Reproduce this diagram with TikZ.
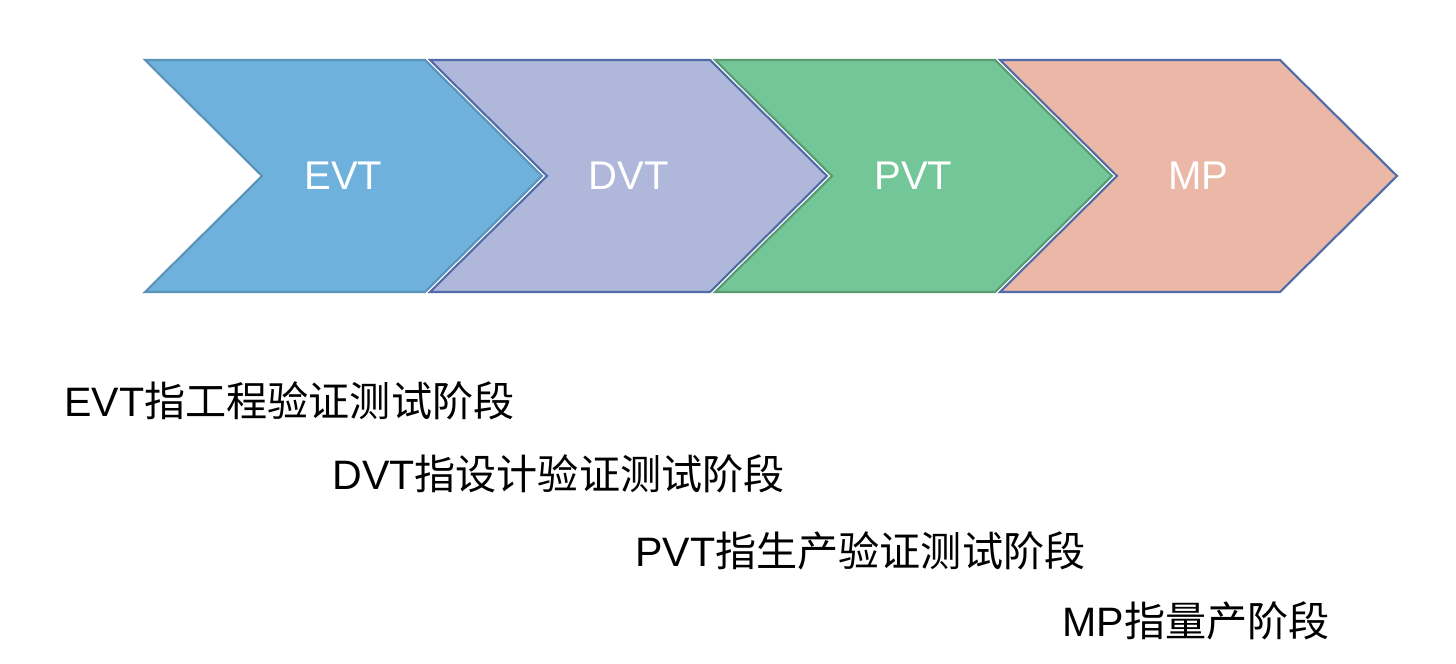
\documentclass[tikz,border=0pt]{standalone}
\usepackage{fontspec}
\setmainfont{Liberation Sans}
\newfontfamily\cjk{Noto Sans CJK SC}
\usetikzlibrary{positioning}
\definecolor{evtFill}{HTML}{6EB1DD}
\definecolor{evtLine}{HTML}{5A93B8}
\definecolor{dvtFill}{HTML}{AFB8DA}
\definecolor{dvtLine}{HTML}{4F6BA8}
\definecolor{pvtFill}{HTML}{73C698}
\definecolor{pvtLine}{HTML}{5A9A70}
\definecolor{mpFill}{HTML}{EBB8A8}
\definecolor{mpLine}{HTML}{4F6BA8}
\tikzset{
    phase/.style      = {line width=1.2pt, line join=miter},
    phasename/.style  = {text=white, inner sep=0pt,
                         font=\fontsize{22.8}{27}\selectfont},
    erklaerung/.style = {anchor=base west, inner sep=0pt,
                         font=\fontsize{23.4}{28}\selectfont}
}

\begin{document}
\begin{tikzpicture}[x=1cm, y=1cm]
    \useasboundingbox (0,0) rectangle (29.12,13.28);

    % Phasenpfeile
    \foreach \name/\fillc/\linec [count=\i from 0] in
        {EVT/evtFill/evtLine, DVT/dvtFill/dvtLine,
         PVT/pvtFill/pvtLine, MP/mpFill/mpLine} {
        \pgfmathsetmacro{\x}{2.9+5.7*\i}
        \draw[phase, fill=\fillc, draw=\linec] (\x,12.08) -- ++(5.6,0)
            -- ++(2.34,-2.32) -- ++(-2.34,-2.32) -- ++(-5.6,0)
            -- ++(2.34,2.32) -- cycle;
        \node[phasename] (\name) at (\x+3.97,9.76) {\name};
    }

    % Erklaerungen
    \node[erklaerung] (evtText) at (1.28,4.94)  {EVT{\cjk 指工程验证测试阶段}};
    \node[erklaerung] (dvtText) at (6.64,3.48)  {DVT{\cjk 指设计验证测试阶段}};
    \node[erklaerung] (pvtText) at (12.70,1.94) {PVT{\cjk 指生产验证测试阶段}};
    \node[erklaerung] (mpText)  at (21.24,0.54) {MP{\cjk 指量产阶段}};
\end{tikzpicture}
\end{document}
